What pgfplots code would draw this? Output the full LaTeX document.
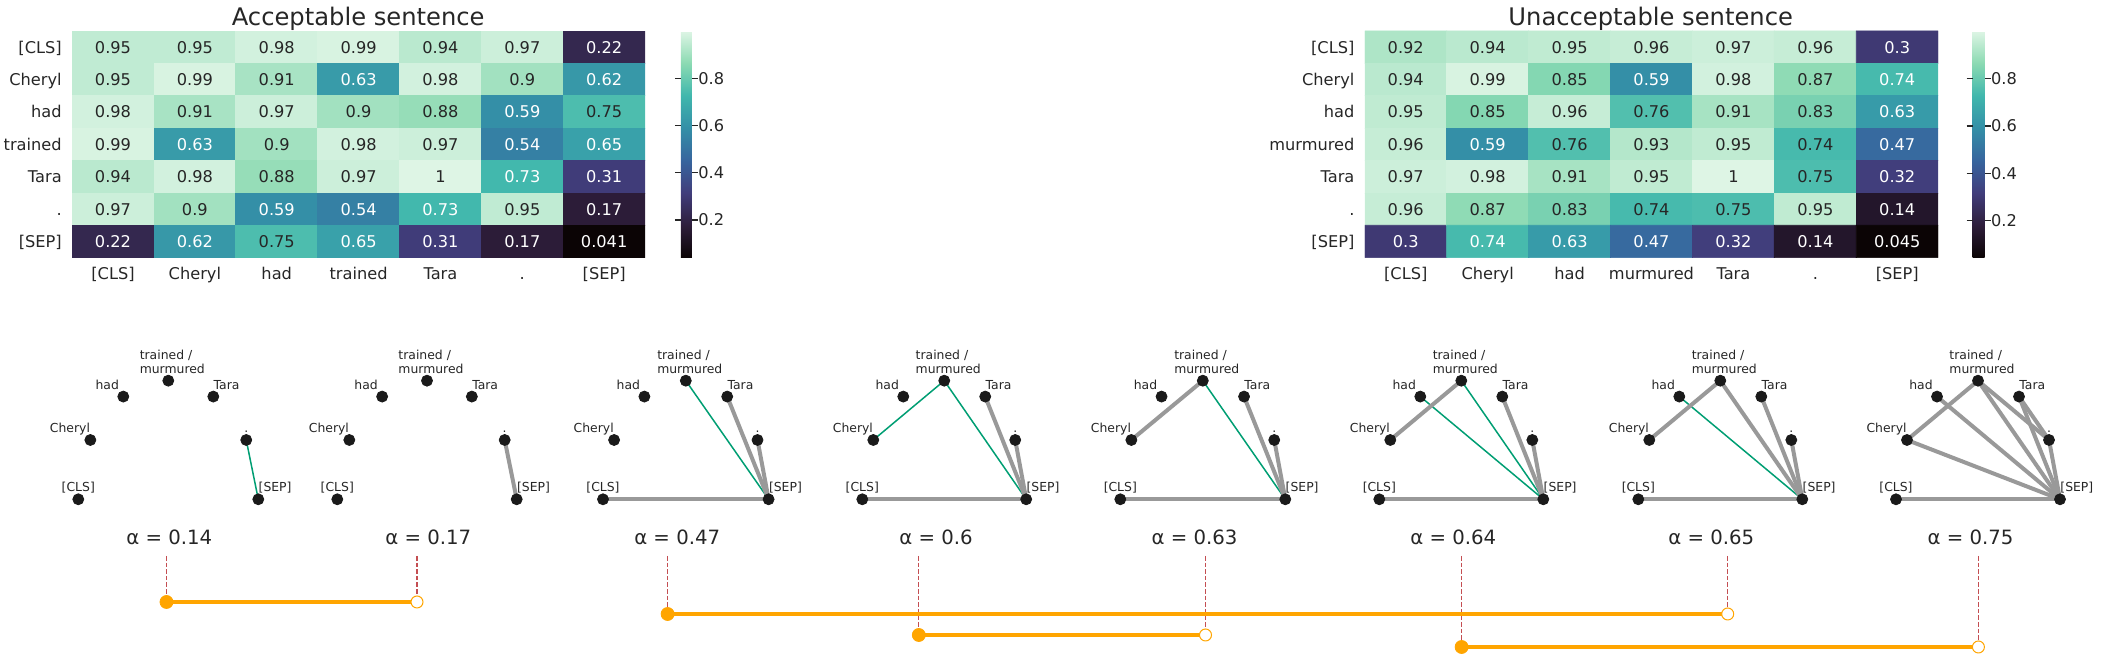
\documentclass[border=0pt]{standalone}
\usepackage{pgfplots}
\pgfplotsset{compat=1.18}
\usepackage{pgfplotstable}
\usepackage{fontspec}
\setmainfont{DejaVu Sans}
\definecolor{txt}{HTML}{262626}
\definecolor{nodek}{HTML}{1A1A1A}
\definecolor{egray}{HTML}{999999}
\definecolor{egreen}{HTML}{009E73}
\definecolor{dred}{HTML}{C44E52}
\definecolor{orng}{HTML}{FFA500}
\newcommand\hmfont{\fontsize{8.1pt}{9.5pt}\selectfont}
\newcommand\tfont{\fontsize{12.1pt}{14pt}\selectfont}
\newcommand\gfont{\fontsize{6.2pt}{7pt}\selectfont}
\newcommand\afont{\fontsize{9.85pt}{12pt}\selectfont}
\protected\def\TMlab{\begin{tabular}[b]{@{}l@{}}trained /\\murmured\end{tabular}}

\pgfplotstableread{
x y v c
0 0 0.95 0
1 0 0.95 0
2 0 0.98 0
3 0 0.99 0
4 0 0.94 0
5 0 0.97 0
6 0 0.22 1
0 1 0.95 0
1 1 0.99 0
2 1 0.91 0
3 1 0.63 1
4 1 0.98 0
5 1 0.9 0
6 1 0.62 1
0 2 0.98 0
1 2 0.91 0
2 2 0.97 0
3 2 0.9 0
4 2 0.88 0
5 2 0.59 1
6 2 0.75 0
0 3 0.99 0
1 3 0.63 1
2 3 0.9 0
3 3 0.98 0
4 3 0.97 0
5 3 0.54 1
6 3 0.65 1
0 4 0.94 0
1 4 0.98 0
2 4 0.88 0
3 4 0.97 0
4 4 1 0
5 4 0.73 1
6 4 0.31 1
0 5 0.97 0
1 5 0.9 0
2 5 0.59 1
3 5 0.54 1
4 5 0.73 1
5 5 0.95 0
6 5 0.17 1
0 6 0.22 1
1 6 0.62 1
2 6 0.75 0
3 6 0.65 1
4 6 0.31 1
5 6 0.17 1
6 6 0.041 1
}\tabA

\pgfplotstableread{
x y v c
0 0 0.92 0
1 0 0.94 0
2 0 0.95 0
3 0 0.96 0
4 0 0.97 0
5 0 0.96 0
6 0 0.3 1
0 1 0.94 0
1 1 0.99 0
2 1 0.85 0
3 1 0.59 1
4 1 0.98 0
5 1 0.87 0
6 1 0.74 1
0 2 0.95 0
1 2 0.85 0
2 2 0.96 0
3 2 0.76 0
4 2 0.91 0
5 2 0.83 0
6 2 0.63 1
0 3 0.96 0
1 3 0.59 1
2 3 0.76 0
3 3 0.93 0
4 3 0.95 0
5 3 0.74 0
6 3 0.47 1
0 4 0.97 0
1 4 0.98 0
2 4 0.91 0
3 4 0.95 0
4 4 1 0
5 4 0.75 0
6 4 0.32 1
0 5 0.96 0
1 5 0.87 0
2 5 0.83 0
3 5 0.74 0
4 5 0.75 0
5 5 0.95 0
6 5 0.14 1
0 6 0.3 1
1 6 0.74 1
2 6 0.63 1
3 6 0.47 1
4 6 0.32 1
5 6 0.14 1
6 6 0.045 1
}\tabB

\pgfplotsset{
  colormap={mako}{rgb255=(11,4,5) rgb255=(46,30,59) rgb255=(65,61,123) rgb255=(55,101,158) rgb255=(52,143,167) rgb255=(64,183,173) rgb255=(139,218,178) rgb255=(222,245,229)},
  heat/.style={scale only axis, anchor=south west, height=113.35pt,
    enlargelimits=false, xmin=-0.5, xmax=6.5, ymin=-0.5, ymax=6.5, y dir=reverse,
    axis line style={draw=none}, major tick length=0pt,
    xtick={0,...,6}, ytick={0,...,6},
    tick label style={font=\hmfont, text=txt, inner sep=0pt},
    xticklabel style={anchor=base, yshift=-11.1pt},
    yticklabel style={anchor=base east, xshift=-5pt, yshift=-2.95pt},
    colorbar,
    colorbar shift/.style={},
  },
  cbar/.style={
    at={(parent axis.north east)}, anchor=north west,
    scale only axis, height=113.35pt,
    axis line style={draw=none},
    ytick={0.2,0.4,0.6,0.8},
    tick align=outside, major tick length=3pt,
    tick style={txt, line width=0.6pt},
    yticklabel style={font=\hmfont, text=txt, inner sep=0pt, anchor=base west, yshift=-2.95pt,
      /pgf/number format/assume math mode=true, /pgf/number format/fixed, /pgf/number format/precision=1},
  },
  cellnum/.style={only marks, mark=none, point meta=explicit,
    nodes near coords={\pgfmathprintnumber[fixed, precision=3, assume math mode=true]{\pgfplotspointmeta}},
    every node near coord/.append style={anchor=center, font=\hmfont, text=#1}},
  graph/.style={scale only axis, anchor=south west, height=59.3pt,
    xmin=0, xmax=1, ymin=0, ymax=1, hide axis, clip=false},
  gE/.style={egray, line width=2pt, no markers},
  gG/.style={egreen, line width=0.75pt, no markers},
  glab/.style={only marks, mark=none, nodes near coords={\pgfplotspointmeta},
    point meta=explicit symbolic,
    every node near coord/.append style={font=\gfont, text=txt, inner sep=0pt, yshift=3.75pt}},
}

\newcommand\gnodes{%
  \addplot[only marks, mark=*, mark size=2.75pt, nodek] coordinates {(0,0) (0.067,0.5) (0.25,0.866) (0.5,1) (0.75,0.866) (0.933,0.5) (1,0)};
  \addplot[glab, every node near coord/.append style={anchor=base}] coordinates {(0,0) [{[CLS]}] (0.933,0.5) [.]};
  \addplot[glab, every node near coord/.append style={anchor=base east}] coordinates {(0.067,0.5) [Cheryl]};
  \addplot[glab, every node near coord/.append style={anchor=base east, xshift=-2pt}] coordinates {(0.25,0.866) [had]};
  \addplot[glab, every node near coord/.append style={anchor=base west}] coordinates {(0.75,0.866) [Tara] (1,0) [{[SEP]}]};
  \addplot[glab, every node near coord/.append style={anchor=base, xshift=2pt}] coordinates {(0.5,1) [\TMlab]};
}

\begin{document}
\begin{tikzpicture}[x=0.5pt, y=0.5pt]
\useasboundingbox (0,0) rectangle (2101,656);

% ---------- titles
\node[font=\tfont, text=txt, anchor=base, inner sep=0pt] at (358.2,630) {Acceptable sentence};
\node[font=\tfont, text=txt, anchor=base, inner sep=0pt] at (1650.7,630) {Unacceptable sentence};

% ---------- heatmap 1
\begin{axis}[heat, at={(36.05pt,199.15pt)}, width=286.5pt,
  point meta min=0.041, point meta max=1,
  xticklabels={{[CLS]},Cheryl,had,trained,Tara,.,{[SEP]}},
  yticklabels={{[CLS]},Cheryl,had,trained,Tara,.,{[SEP]}},
  colorbar style={cbar, xshift=17.95pt, width=5.5pt}]
\addplot[matrix plot*, mesh/cols=7, mesh/rows=7, point meta=explicit]
  table[x=x, y=y, meta=v] {\tabA};
\addplot[cellnum=white, restrict expr to domain={\thisrow{c}}{0.5:1.5}]
  table[x=x, y=y, meta=v] {\tabA};
\addplot[cellnum=txt, restrict expr to domain={\thisrow{c}}{-0.5:0.5}]
  table[x=x, y=y, meta=v] {\tabA};
\end{axis}

% ---------- heatmap 2
\begin{axis}[heat, at={(682.4pt,199.15pt)}, width=286.7pt,
  point meta min=0.045, point meta max=1,
  xticklabels={{[CLS]},Cheryl,had,murmured,Tara,.,{[SEP]}},
  yticklabels={{[CLS]},Cheryl,had,murmured,Tara,.,{[SEP]}},
  colorbar style={cbar, xshift=17.25pt, width=6pt}]
\addplot[matrix plot*, mesh/cols=7, mesh/rows=7, point meta=explicit]
  table[x=x, y=y, meta=v] {\tabB};
\addplot[cellnum=white, restrict expr to domain={\thisrow{c}}{0.5:1.5}]
  table[x=x, y=y, meta=v] {\tabB};
\addplot[cellnum=txt, restrict expr to domain={\thisrow{c}}{-0.5:0.5}]
  table[x=x, y=y, meta=v] {\tabB};
\end{axis}

% ---------- graphs
% G1 alpha 0.14
\begin{axis}[graph, at={(39.15pt,78.35pt)}, width=90pt]
\addplot[gG] coordinates {(0.933,0.5) (1,0)};
\gnodes
\end{axis}
% G2 alpha 0.17
\begin{axis}[graph, at={(168.65pt,78.35pt)}, width=89.7pt]
\addplot[gE] coordinates {(0.933,0.5) (1,0)};
\gnodes
\end{axis}
% G3 alpha 0.47
\begin{axis}[graph, at={(301.5pt,78.35pt)}, width=82.8pt]
\addplot[gG] coordinates {(0.5,1) (1,0)};
\addplot[gE] coordinates {(0,0) (1,0)};
\addplot[gE] coordinates {(0.75,0.866) (1,0)};
\addplot[gE] coordinates {(0.933,0.5) (1,0)};
\gnodes
\end{axis}
% G4 alpha 0.6
\begin{axis}[graph, at={(431.15pt,78.35pt)}, width=81.95pt]
\addplot[gG] coordinates {(0.067,0.5) (0.5,1) (1,0)};
\addplot[gE] coordinates {(0,0) (1,0)};
\addplot[gE] coordinates {(0.75,0.866) (1,0)};
\addplot[gE] coordinates {(0.933,0.5) (1,0)};
\gnodes
\end{axis}
% G5 alpha 0.63
\begin{axis}[graph, at={(560.15pt,78.35pt)}, width=82.5pt]
\addplot[gG] coordinates {(0.5,1) (1,0)};
\addplot[gE] coordinates {(0.067,0.5) (0.5,1)};
\addplot[gE] coordinates {(0,0) (1,0)};
\addplot[gE] coordinates {(0.75,0.866) (1,0)};
\addplot[gE] coordinates {(0.933,0.5) (1,0)};
\gnodes
\end{axis}
% G6 alpha 0.64
\begin{axis}[graph, at={(689.65pt,78.35pt)}, width=82pt]
\addplot[gG] coordinates {(0.5,1) (1,0)};
\addplot[gG] coordinates {(0.25,0.866) (1,0)};
\addplot[gE] coordinates {(0.067,0.5) (0.5,1)};
\addplot[gE] coordinates {(0,0) (1,0)};
\addplot[gE] coordinates {(0.75,0.866) (1,0)};
\addplot[gE] coordinates {(0.933,0.5) (1,0)};
\gnodes
\end{axis}
% G7 alpha 0.65
\begin{axis}[graph, at={(819.15pt,78.35pt)}, width=82pt]
\addplot[gG] coordinates {(0.25,0.866) (1,0)};
\addplot[gE] coordinates {(0.067,0.5) (0.5,1)};
\addplot[gE] coordinates {(0.5,1) (1,0)};
\addplot[gE] coordinates {(0,0) (1,0)};
\addplot[gE] coordinates {(0.75,0.866) (1,0)};
\addplot[gE] coordinates {(0.933,0.5) (1,0)};
\gnodes
\end{axis}
% G8 alpha 0.75
\begin{axis}[graph, at={(948pt,78.35pt)}, width=82pt]
\addplot[gE] coordinates {(0.067,0.5) (0.5,1)};
\addplot[gE] coordinates {(0.067,0.5) (1,0)};
\addplot[gE] coordinates {(0.25,0.866) (1,0)};
\addplot[gE] coordinates {(0.5,1) (1,0)};
\addplot[gE] coordinates {(0.5,1) (0.933,0.5)};
\addplot[gE] coordinates {(0.75,0.866) (1,0)};
\addplot[gE] coordinates {(0.75,0.866) (0.933,0.5)};
\addplot[gE] coordinates {(0.933,0.5) (1,0)};
\addplot[gE] coordinates {(0,0) (1,0)};
\gnodes
\end{axis}

% ---------- alpha labels
\node[font=\afont, text=txt, inner sep=0pt] at (169.3,118.7) {α = 0.14};
\node[font=\afont, text=txt, inner sep=0pt] at (428.3,118.7) {α = 0.17};
\node[font=\afont, text=txt, inner sep=0pt] at (677.2,118.7) {α = 0.47};
\node[font=\afont, text=txt, inner sep=0pt] at (936.1,118.7) {α = 0.6};
\node[font=\afont, text=txt, inner sep=0pt] at (1194.5,118.7) {α = 0.63};
\node[font=\afont, text=txt, inner sep=0pt] at (1453.3,118.7) {α = 0.64};
\node[font=\afont, text=txt, inner sep=0pt] at (1711.2,118.7) {α = 0.65};
\node[font=\afont, text=txt, inner sep=0pt] at (1970.5,118.7) {α = 0.75};

% ---------- intervals
\begin{axis}[at={(0pt,0pt)}, anchor=south west, scale only axis, width=1050.5pt, height=328pt,
  xmin=0, xmax=2101, ymin=0, ymax=656, hide axis, clip=false]
\pgfplotsset{dl/.style={dred, line width=0.65pt, dash pattern=on 2.3pt off 1pt, no markers}}
\addplot[dl] coordinates {(166.5,100) (166.5,54)};
\addplot[dl] coordinates {(417,100) (417,54)};
\addplot[dl] coordinates {(667.6,100) (667.6,42)};
\addplot[dl] coordinates {(918.8,100) (918.8,21)};
\addplot[dl] coordinates {(1205.5,100) (1205.5,21)};
\addplot[dl] coordinates {(1461.6,100) (1461.6,9)};
\addplot[dl] coordinates {(1727.7,100) (1727.7,42)};
\addplot[dl] coordinates {(1978.4,100) (1978.4,9)};
\addplot[orng, line width=2pt, no markers] coordinates {(166.5,54) (417,54)};
\addplot[orng, line width=2pt, no markers] coordinates {(667.6,42) (1727.7,42)};
\addplot[orng, line width=2pt, no markers] coordinates {(918.8,21) (1205.5,21)};
\addplot[orng, line width=2pt, no markers] coordinates {(1461.6,9) (1978.4,9)};
\addplot[only marks, mark=*, mark size=3.25pt, orng] coordinates {(166.5,54) (667.6,42) (918.8,21) (1461.6,9)};
\addplot[only marks, mark=*, mark size=3pt, mark options={draw=orng, fill=white, line width=0.5pt}] coordinates {(417,54) (1727.7,42) (1205.5,21) (1978.4,9)};
\end{axis}
\end{tikzpicture}
\end{document}
